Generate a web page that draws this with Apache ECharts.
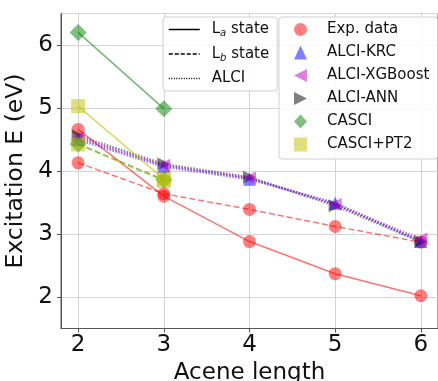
<!DOCTYPE html>
<html>
<head>
<meta charset="utf-8">
<script src="https://cdn.jsdelivr.net/npm/echarts@6.0.0/dist/echarts.min.js"></script>
<style>
  html, body { margin: 0; padding: 0; background: #fff; }
  #chart { width: 438px; height: 381px; }
</style>
</head>
<body>
<div id="chart"></div>
<script>
// acene length on x, excitation energy (eV) on y
const lengths = [2, 3, 4, 5, 6];
const expLa = [4.66, 3.60, 2.88, 2.37, 2.02];
const expLb = [4.13, 3.64, 3.39, 3.12, 2.87];
const krcLa = [4.50, 4.07, 3.87, 3.49, 2.88];
const xgbLa = [4.53, 4.09, 3.89, 3.47, 2.92];
const annLa = [4.56, 4.11, 3.90, 3.45, 2.88];
const casciLa = [6.20, 4.99];
const casciLb = [4.43, 3.86];
const pt2La = [5.03, 3.87];
const pt2Lb = [4.42, 3.84];

const FONT = 'DejaVu Sans';
const leftTri = 'path://M0,5L10,0L10,10Z';
const rightTri = 'path://M0,0L10,5L0,10Z';

const pts = ys => ys.map((y, i) => [lengths[i], y]);

const red = 'rgba(255,0,0,0.5)';
const blue = 'rgba(0,0,255,0.5)';
const mag = 'rgba(191,0,191,0.5)';
const gray = 'rgba(0,0,0,0.5)';
const green = 'rgba(0,128,0,0.5)';
const yellow = 'rgba(191,191,0,0.5)';

function mk(name, data, color, lineColor, type, symbol, size, width) {
  return {
    name: name,
    type: 'line',
    data: pts(data),
    symbol: symbol,
    symbolSize: size,
    itemStyle: { color: color },
    lineStyle: { color: lineColor, type: type, width: width || 1.5 },
    emphasis: { disabled: true }
  };
}

// legend entries for the line styles only: hide the marker
const noMark = { color: 'rgba(0,0,0,0)', opacity: 0, borderWidth: 0 };

const chart = echarts.init(document.getElementById('chart'));
chart.setOption({
  animation: false,
  backgroundColor: '#fff',
  textStyle: { fontFamily: FONT },
  grid: {
    left: 61, top: 13.5, right: 0, bottom: 52.5,
    containLabel: false, outerBoundsMode: 'none',
    show: true, borderColor: '#555', borderWidth: 1, backgroundColor: 'transparent'
  },
  xAxis: {
    type: 'value',
    min: 1.8, max: 6.2, minInterval: 1, maxInterval: 1,
    name: 'Acene length',
    nameLocation: 'middle',
    nameGap: 31,
    nameTextStyle: { fontSize: 23, color: '#111', fontFamily: FONT },
    axisLine: { show: true, lineStyle: { color: '#555', width: 1 } },
    axisTick: { show: true, length: 4, inside: false, lineStyle: { color: '#555' } },
    axisLabel: { fontSize: 23, color: '#111', margin: 5, showMinLabel: false, showMaxLabel: false, fontFamily: FONT },
    splitLine: { show: true, lineStyle: { color: '#d4d4d4', width: 1 } }
  },
  yAxis: {
    type: 'value',
    min: 1.5, max: 6.5, minInterval: 1, maxInterval: 1,
    name: 'Excitation E (eV)',
    nameLocation: 'middle',
    nameGap: 17,
    nameTextStyle: { fontSize: 23.5, color: '#111', fontFamily: FONT },
    axisLine: { show: true, lineStyle: { color: '#555', width: 1 } },
    axisTick: { show: true, length: 4, inside: false, lineStyle: { color: '#555' } },
    axisLabel: { fontSize: 23, color: '#111', margin: 8, showMinLabel: false, showMaxLabel: false, fontFamily: FONT },
    splitLine: { show: true, lineStyle: { color: '#d4d4d4', width: 1 } }
  },
  legend: [
    {
      data: [
        { name: 'La', itemStyle: noMark, lineStyle: { width: 1.5 } },
        { name: 'Lb', itemStyle: noMark, lineStyle: { width: 1.5 } },
        { name: 'ALCI', itemStyle: noMark, lineStyle: { width: 1.5 } }
      ],
      orient: 'vertical',
      left: 163, top: 17,
      padding: [5, 8, 5, 5],
      itemWidth: 31, itemHeight: 14, itemGap: 8,
      selectedMode: false,
      backgroundColor: 'rgba(255,255,255,0.85)',
      borderColor: '#d0d0d0', borderWidth: 1, borderRadius: 3,
      formatter: function (n) {
        if (n === 'La') return '{t|L}{s|a}{t| state}';
        if (n === 'Lb') return '{t|L}{s|b}{t| state}';
        return '{t|ALCI}';
      },
      textStyle: {
        padding: [0, 0, 0, 7],
        rich: {
          t: { fontSize: 15, color: '#111', fontFamily: FONT, lineHeight: 18 },
          s: { fontSize: 10, color: '#111', fontStyle: 'italic', fontFamily: FONT, verticalAlign: 'bottom', lineHeight: 18, padding: [5, 0, 0, 0] }
        }
      }
    },
    {
      data: [
        { name: 'Exp. data', icon: 'circle', itemStyle: { color: red } },
        { name: 'ALCI-KRC', icon: 'triangle', itemStyle: { color: blue } },
        { name: 'ALCI-XGBoost', icon: leftTri, itemStyle: { color: mag } },
        { name: 'ALCI-ANN', icon: rightTri, itemStyle: { color: gray } },
        { name: 'CASCI', icon: 'diamond', itemStyle: { color: green } },
        { name: 'CASCI+PT2', icon: 'rect', itemStyle: { color: yellow } }
      ],
      orient: 'vertical',
      left: 279, top: 17,
      padding: [5, 8, 7, 15],
      itemWidth: 13, itemHeight: 14, itemGap: 8,
      selectedMode: false,
      backgroundColor: 'rgba(255,255,255,0.85)',
      borderColor: '#d0d0d0', borderWidth: 1, borderRadius: 3,
      textStyle: { fontSize: 15, color: '#111', fontFamily: FONT, padding: [0, 0, 0, 15] }
    }
  ],
  series: [
    { name: 'La', type: 'line', data: [], symbol: 'none', itemStyle: { color: '#000' }, lineStyle: { color: '#000', type: 'solid', width: 1.5 } },
    { name: 'Lb', type: 'line', data: [], symbol: 'none', itemStyle: { color: '#000' }, lineStyle: { color: '#000', type: [4, 2], width: 1.5 } },
    { name: 'ALCI', type: 'line', data: [], symbol: 'none', itemStyle: { color: '#000' }, lineStyle: { color: '#000', type: [1, 1.5], width: 1.5 } },

    mk('Exp. data', expLa, red, 'rgba(255,0,0,0.55)', 'solid', 'circle', 13),
    mk('Exp. data', expLb, red, 'rgba(255,0,0,0.55)', [6, 3], 'circle', 13),
    mk('ALCI-ANN', annLa, gray, 'rgba(0,0,0,0.45)', [1.5, 1.5], rightTri, 13, 2.5),
    mk('ALCI-KRC', krcLa, blue, 'rgba(0,0,255,0.5)', [1.5, 1.5], 'triangle', 13, 2.5),
    mk('ALCI-XGBoost', xgbLa, mag, 'rgba(191,0,191,0.5)', [1.5, 1.5], leftTri, 13, 2.5),
    mk('CASCI', casciLa, green, 'rgba(0,128,0,0.55)', 'solid', 'diamond', 17),
    mk('CASCI', casciLb, green, 'rgba(0,128,0,0.55)', [6, 3], 'diamond', 17),
    mk('CASCI+PT2', pt2La, yellow, 'rgba(191,191,0,0.6)', 'solid', 'rect', 14),
    mk('CASCI+PT2', pt2Lb, yellow, 'rgba(191,191,0,0.6)', [6, 3], 'rect', 14)
  ]
});
</script>
</body>
</html>
